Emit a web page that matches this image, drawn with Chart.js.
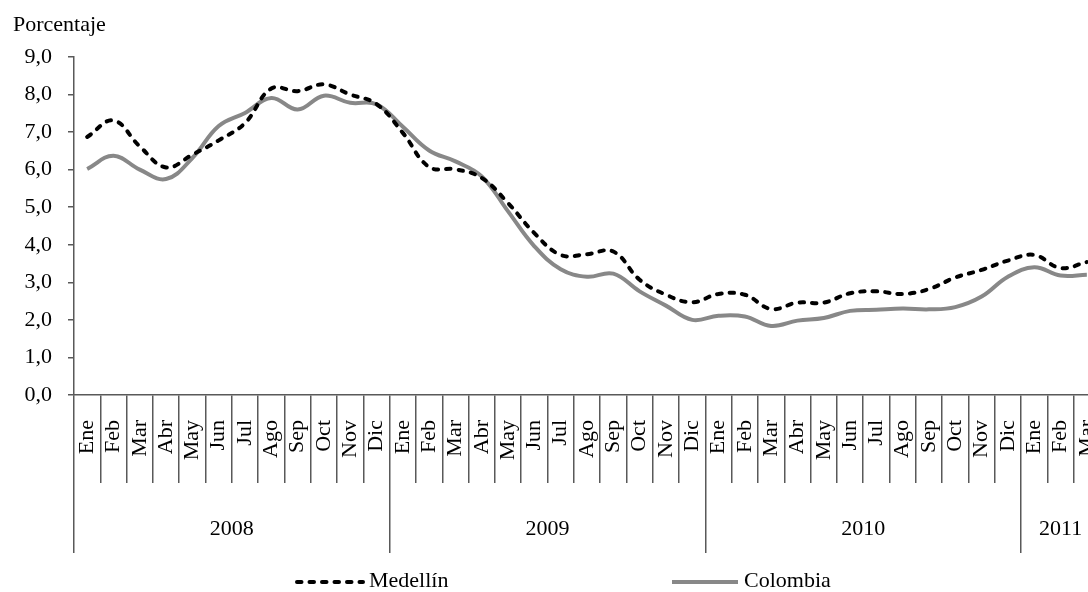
<!DOCTYPE html>
<html>
<head>
<meta charset="utf-8">
<script src="https://cdn.jsdelivr.net/npm/chart.js@4.4.1/dist/chart.umd.min.js"></script>
<style>
  html, body { margin: 0; padding: 0; background: #fff; width: 1088px; height: 592px; overflow: hidden; }
  canvas { display: block; }
</style>
</head>
<body>
<canvas id="chart" width="1110" height="592"></canvas>
<script>
// Monthly series, January 2008 to March 2011 (percent)
const monthNames = ['Ene', 'Feb', 'Mar', 'Abr', 'May', 'Jun', 'Jul', 'Ago', 'Sep', 'Oct', 'Nov', 'Dic'];
const years = ['2008', '2009', '2010', '2011'];
const monthsPerYear = [12, 12, 12, 3];

const medellin = [
  6.87, 7.31, 6.62, 6.06, 6.40, 6.78, 7.24, 8.16, 8.09, 8.27, 8.00, 7.75,
  6.98, 6.07, 6.01, 5.78, 5.11, 4.31, 3.73, 3.75, 3.82, 3.07, 2.67, 2.47,
  2.69, 2.67, 2.29, 2.46, 2.46, 2.71, 2.76, 2.69, 2.82, 3.13, 3.33, 3.58,
  3.73, 3.38, 3.54
];
const colombia = [
  6.02, 6.37, 6.00, 5.75, 6.31, 7.16, 7.51, 7.91, 7.60, 7.97, 7.78, 7.74,
  7.14, 6.51, 6.22, 5.82, 4.89, 3.96, 3.35, 3.15, 3.23, 2.76, 2.38, 2.00,
  2.11, 2.09, 1.84, 1.98, 2.05, 2.24, 2.27, 2.30, 2.28, 2.34, 2.62, 3.15,
  3.40, 3.18, 3.20
];

const yMin = 0, yMax = 9, yStep = 1;

// Category labels: one month name per data point
const categories = [];
monthsPerYear.forEach(n => { for (let m = 0; m < n; m++) categories.push(monthNames[m]); });

// Year band boundaries and centres, in category-index units
const yearBoundaries = [];
const yearCentres = {};
let start = 0;
monthsPerYear.forEach((n, i) => {
  yearBoundaries.push(start - 0.5);
  yearCentres[start + n / 2 - 0.5] = years[i];
  start += n;
});
const yearTickValues = yearBoundaries.concat(Object.keys(yearCentres).map(Number)).sort((a, b) => a - b);

const serif = "'Liberation Serif', 'Times New Roman', serif";
const axisColor = '#595959';
Chart.defaults.font.family = serif;
Chart.defaults.font.size = 22;
Chart.defaults.color = '#000';

// Legend row drawn below the year band
const legendRow = {
  id: 'legendRow',
  afterDraw(chart, args, opts) {
    const ctx = chart.ctx;
    chart.data.datasets.forEach((ds, i) => {
      const x0 = opts.starts[i];
      const y = opts.y;
      ctx.save();
      ctx.strokeStyle = ds.borderColor;
      ctx.lineWidth = ds.borderWidth;
      ctx.lineCap = ds.borderCapStyle || 'butt';
      ctx.setLineDash(ds.borderDash || []);
      ctx.beginPath();
      ctx.moveTo(x0, y);
      ctx.lineTo(x0 + opts.sample, y);
      ctx.stroke();
      ctx.setLineDash([]);
      ctx.fillStyle = '#000';
      ctx.font = opts.fontSize + 'px ' + serif;
      ctx.textBaseline = 'middle';
      ctx.textAlign = 'left';
      ctx.fillText(ds.label, x0 + opts.sample + opts.gap, y - 1);
      ctx.restore();
    });
  }
};

new Chart(document.getElementById('chart'), {
  type: 'line',
  data: {
    labels: categories,
    datasets: [
      {
        label: 'Medellín',
        data: medellin,
        xAxisID: 'x',
        yAxisID: 'y',
        borderColor: '#000000',
        borderWidth: 4,
        borderDash: [4.5, 8],
        borderCapStyle: 'round',
        pointRadius: 0,
        tension: 0.4,
        fill: false
      },
      {
        label: 'Colombia',
        data: colombia,
        xAxisID: 'x',
        yAxisID: 'y',
        borderColor: '#888888',
        borderWidth: 4,
        pointRadius: 0,
        tension: 0.4,
        fill: false
      }
    ]
  },
  options: {
    responsive: false,
    animation: false,
    devicePixelRatio: 1,
    layout: { padding: { left: 13, right: 10, top: 0, bottom: 39 } },
    plugins: {
      legend: { display: false },
      tooltip: { enabled: false },
      title: {
        display: true,
        text: 'Porcentaje',
        align: 'start',
        color: '#000',
        font: { family: serif, size: 22, weight: 'normal' },
        padding: { top: 12, bottom: 18.6 }
      },
      legendRow: { starts: [297, 672], y: 582, sample: 66, gap: 6, fontSize: 22 }
    },
    scales: {
      x: {
        type: 'category',
        position: 'bottom',
        weight: 0,
        offset: true,
        grid: {
          display: true,
          offset: true,
          drawOnChartArea: false,
          drawTicks: true,
          tickLength: 88,
          color: axisColor,
          lineWidth: 1.5
        },
        border: { display: true, color: axisColor, width: 1.5 },
        ticks: {
          autoSkip: false,
          minRotation: 90,
          maxRotation: 90,
          padding: -63,
          color: '#000',
          font: { size: 22 }
        },
        afterFit(scale) { scale.height = 88; }
      },
      years: {
        type: 'linear',
        position: 'bottom',
        weight: 1,
        min: -0.5,
        max: categories.length - 0.5,
        offset: false,
        bounds: 'data',
        afterBuildTicks(scale) { scale.ticks = yearTickValues.map(v => ({ value: v })); },
        grid: {
          display: true,
          drawOnChartArea: false,
          drawTicks: true,
          tickLength: 70,
          lineWidth: 1.5,
          color: c => (c.tick && yearBoundaries.includes(c.tick.value)) ? axisColor : 'rgba(0,0,0,0)'
        },
        border: { display: false },
        ticks: {
          autoSkip: false,
          minRotation: 0,
          maxRotation: 0,
          padding: -37,
          color: '#000',
          font: { size: 22 },
          callback: v => yearCentres[v] || ''
        },
        afterFit(scale) { scale.height = 70; }
      },
      y: {
        min: yMin,
        max: yMax,
        ticks: {
          stepSize: yStep,
          padding: 16,
          color: '#000',
          font: { size: 22 },
          callback: v => v.toFixed(1).replace('.', ',')
        },
        grid: {
          display: true,
          drawOnChartArea: false,
          drawTicks: true,
          tickLength: 6,
          color: axisColor,
          lineWidth: 1.5
        },
        border: { display: true, color: axisColor, width: 1.5 },
        afterFit(scale) { scale.width = 61; }
      }
    }
  },
  plugins: [legendRow]
});
</script>
</body>
</html>
